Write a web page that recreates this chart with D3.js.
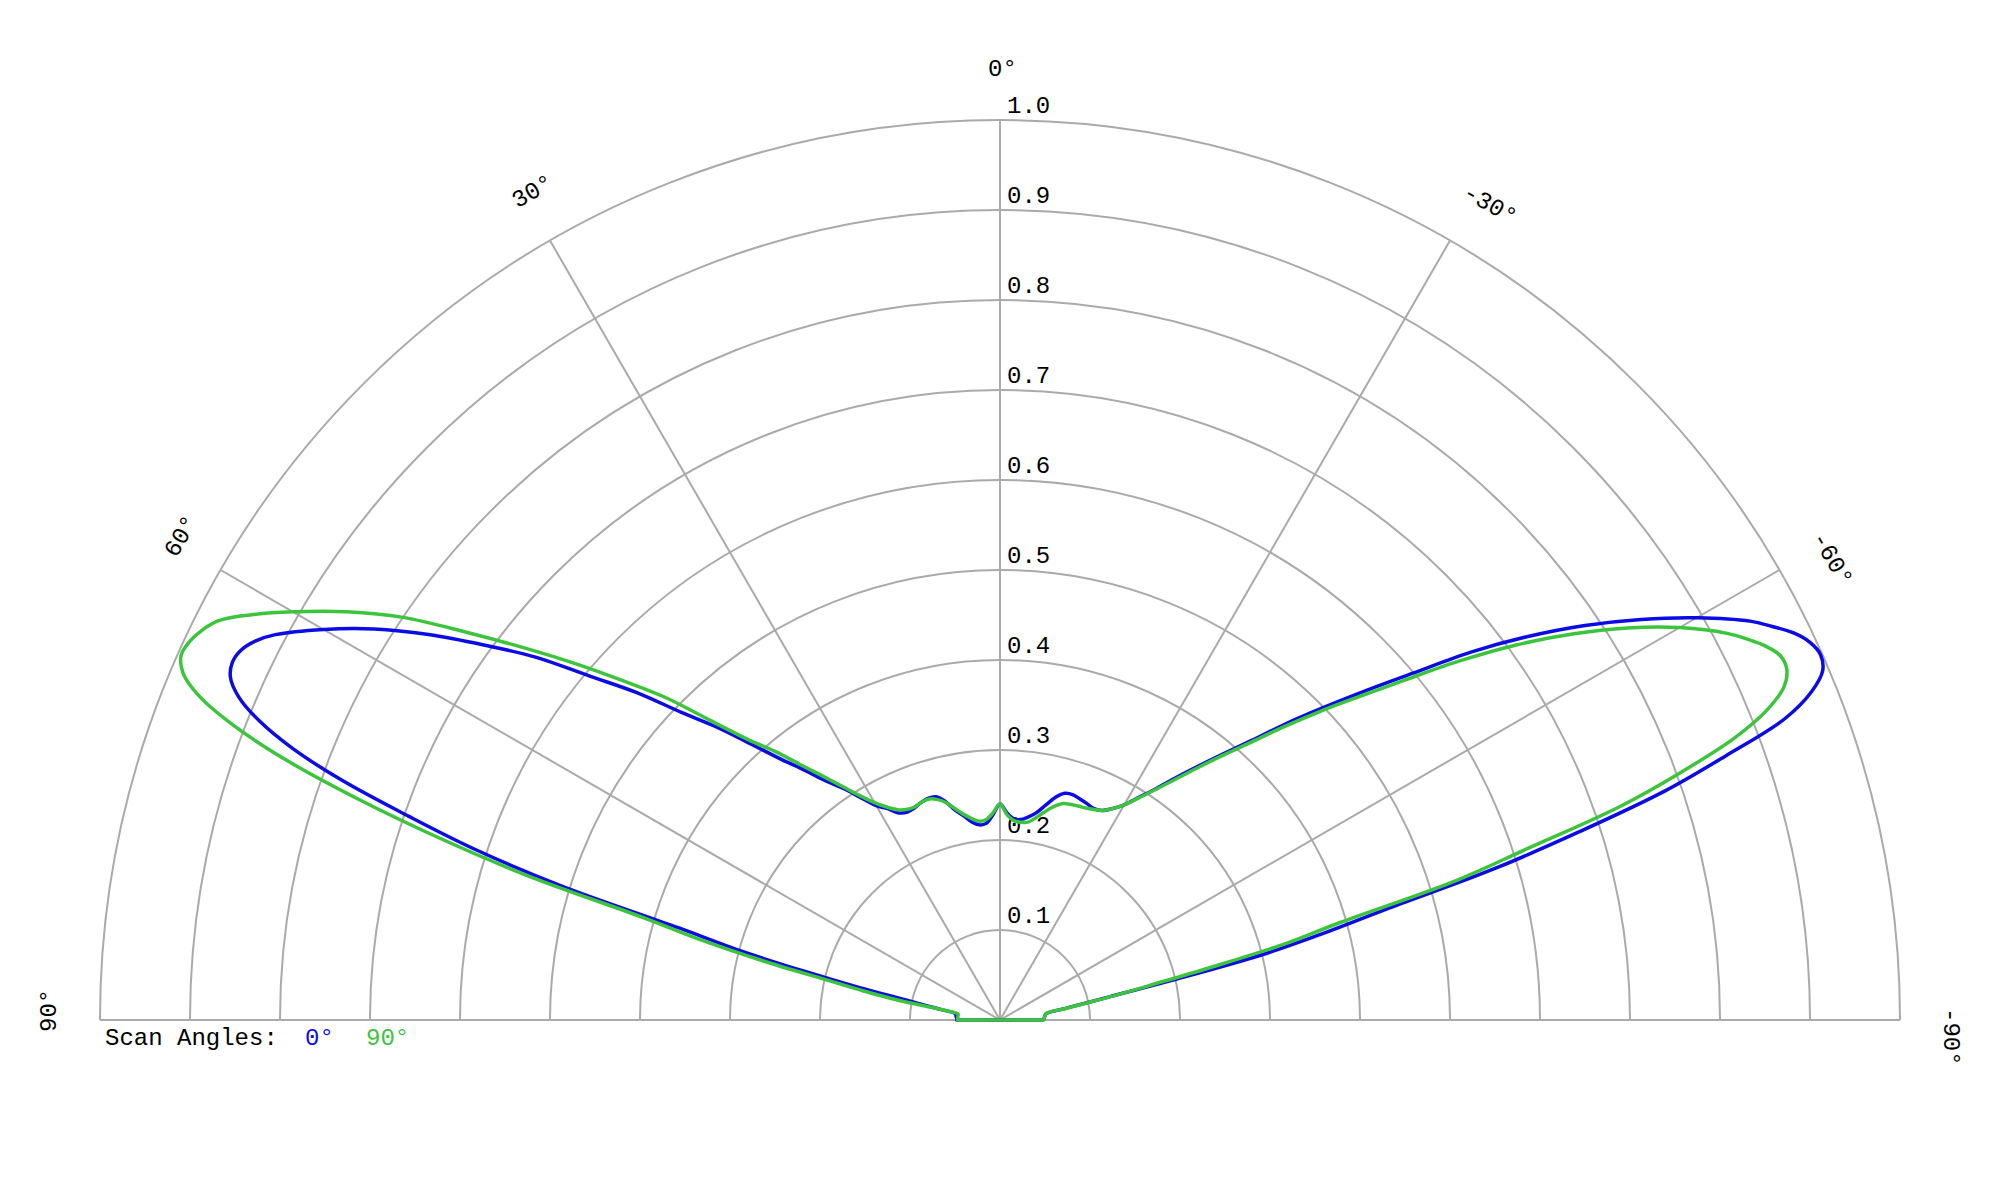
<!DOCTYPE html>
<html>
<head>
<meta charset="utf-8">
<script src="https://cdn.jsdelivr.net/npm/d3@7"></script>
<style>
    body { margin: 0; background: #fff; }
    text { font-family: "Liberation Mono", "Courier New", monospace; font-size: 24px; fill: #000; }
</style>
</head>
<body>
<div id="picture"></div>
<script>
// pattern angles in degrees (positive = left of broadside)
var angles = [-90, -88, -85, -82, -80, -79, -78, -77, -76, -75, -74, -73, -72, -71, -70, -69, -68, -67, -66, -65, -64, -63, -62,
    -60, -58, -56, -54, -52, -50, -48, -46, -44, -42, -40, -38, -36, -34, -32, -30, -28, -26, -24, -22, -20, -18, -16, -14, -12, -10, -8, -6, -4, -2,
    0,
    2, 4, 6, 8, 10, 12, 14, 16, 18, 20, 22, 24, 26, 28, 30, 32, 34, 36, 38, 40, 42, 44, 46, 48, 50, 52, 54, 56, 58, 60,
    62, 63, 64, 65, 66, 67, 68, 69, 70, 71, 72, 73, 74, 75, 76, 77, 78, 79, 80, 82, 85, 88, 90];

// scan angle 0 deg
var scan0 = [0.048, 0.049, 0.050, 0.052, 0.073, 0.092, 0.125, 0.196, 0.302, 0.372, 0.446, 0.573, 0.677, 0.781, 0.858, 0.934, 0.972, 0.993, 0.998, 0.993, 0.981, 0.963, 0.944,
    0.894, 0.840, 0.784, 0.725, 0.664, 0.600, 0.547, 0.500, 0.458, 0.418, 0.386, 0.358, 0.333, 0.310, 0.292, 0.276, 0.266, 0.259, 0.257, 0.259, 0.261, 0.263, 0.262, 0.255, 0.244, 0.234, 0.228, 0.224, 0.224, 0.230,
    0.240,
    0.228, 0.219, 0.218, 0.222, 0.230, 0.238, 0.250, 0.258, 0.259, 0.257, 0.254, 0.253, 0.256, 0.266, 0.275, 0.291, 0.310, 0.328, 0.352, 0.378, 0.412, 0.452, 0.492, 0.544, 0.594, 0.655, 0.709, 0.766, 0.820, 0.868,
    0.912, 0.928, 0.938, 0.941, 0.936, 0.919, 0.888, 0.842, 0.777, 0.694, 0.613, 0.510, 0.371, 0.304, 0.226, 0.161, 0.106, 0.082, 0.066, 0.050, 0.049, 0.048, 0.048];

// scan angle 90 deg
var scan90 = [0.048, 0.049, 0.050, 0.052, 0.075, 0.095, 0.130, 0.170, 0.240, 0.331, 0.393, 0.530, 0.616, 0.728, 0.806, 0.874, 0.919, 0.946, 0.957, 0.957, 0.947, 0.932, 0.915,
    0.872, 0.822, 0.767, 0.709, 0.648, 0.588, 0.537, 0.493, 0.452, 0.414, 0.383, 0.355, 0.330, 0.309, 0.291, 0.276, 0.266, 0.259, 0.256, 0.254, 0.253, 0.252, 0.250, 0.244, 0.236, 0.228, 0.222, 0.221, 0.222, 0.228,
    0.240,
    0.230, 0.223, 0.222, 0.226, 0.232, 0.240, 0.249, 0.255, 0.258, 0.257, 0.255, 0.256, 0.260, 0.268, 0.279, 0.294, 0.313, 0.335, 0.360, 0.390, 0.420, 0.462, 0.515, 0.563, 0.616, 0.672, 0.733, 0.800, 0.856, 0.907,
    0.956, 0.976, 0.987, 0.994, 0.996, 0.986, 0.959, 0.911, 0.843, 0.755, 0.657, 0.550, 0.410, 0.344, 0.270, 0.197, 0.155, 0.115, 0.064, 0.047, 0.047, 0.047, 0.047];

var radialTicks = [0.1, 0.2, 0.3, 0.4, 0.5, 0.6, 0.7, 0.8, 0.9, 1.0];
var angleTicks = [-90, -60, -30, 0, 30, 60, 90];
var spokeTicks = [-60, -30, 0, 30, 60];
var seriesNames = ["0°", "90°"];
var seriesColors = ["#0b0be6", "#3cc43c"];

function draw() {
    "use strict";

    var width = 2000, height = 1200, cx = 1000, cy = 1020, radius = 900;

    var svg = d3.select("#picture")
        .append("svg")
        .attr("width", width)
        .attr("height", height);

    var g = svg.append("g")
        .attr("transform", "translate(" + cx + "," + cy + ")");

    // angle 0 points up, positive degrees go counter-clockwise
    var a_scale = d3.scaleLinear().domain([-90, 90]).range([Math.PI / 2, -Math.PI / 2]);
    var r_scale = d3.scaleLinear().domain([0, 1]).range([0, radius]);

    // grid arcs
    g.selectAll(".ring")
        .data(radialTicks)
        .enter()
        .append("path")
        .attr("class", "ring")
        .attr("d", function (d) {
            var p = d3.path();
            p.arc(0, 0, r_scale(d), Math.PI, 2 * Math.PI);
            return p.toString();
        })
        .attr("fill", "none")
        .attr("stroke", "#aaaaaa")
        .attr("stroke-width", 2);

    // base line (+-90)
    g.append("line")
        .attr("x1", -r_scale(1)).attr("x2", r_scale(1))
        .attr("y1", 0).attr("y2", 0)
        .attr("stroke", "#aaaaaa")
        .attr("stroke-width", 2);

    g.selectAll(".spoke")
        .data(spokeTicks)
        .enter()
        .append("line")
        .attr("class", "spoke")
        .attr("x1", 0).attr("y1", 0)
        .attr("x2", function (d) { return r_scale(1) * Math.sin(a_scale(d)); })
        .attr("y2", function (d) { return -r_scale(1) * Math.cos(a_scale(d)); })
        .attr("stroke", "#aaaaaa")
        .attr("stroke-width", 2);

    // radial labels
    g.selectAll(".rlabel")
        .data(radialTicks)
        .enter()
        .append("text")
        .attr("class", "rlabel")
        .attr("x", 7)
        .attr("y", function (d) { return -r_scale(d) - 7; })
        .text(function (d) { return d.toFixed(1); });

    // angle labels
    var labelR = 944;
    g.selectAll(".alabel")
        .data(angleTicks)
        .enter()
        .append("text")
        .attr("class", "alabel")
        .attr("transform", function (d) {
            var a = a_scale(d);
            var x = labelR * Math.sin(a), y = -labelR * Math.cos(a);
            return "translate(" + x + "," + y + ") rotate(" + (a * 180 / Math.PI) + ")";
        })
        .attr("x", -12)
        .text(function (d) { return d + "°"; });

    // patterns: smooth open curve, closed with a straight segment along the base
    var line = d3.lineRadial()
        .angle(function (d) { return a_scale(d.a); })
        .radius(function (d) { return r_scale(d.r); })
        .curve(d3.curveCatmullRom.alpha(0.5));

    [scan0, scan90].forEach(function (vals, k) {
        var pts = angles.map(function (a, i) { return { a: a, r: vals[i] }; });
        g.append("path")
            .attr("d", line(pts) + "Z")
            .attr("fill", "none")
            .attr("stroke", seriesColors[k])
            .attr("stroke-width", 3.5)
            .attr("stroke-linejoin", "round");
    });

    // legend
    var leg = svg.append("text")
        .attr("x", 105)
        .attr("y", 1045);
    leg.append("tspan").text("Scan Angles:");
    leg.append("tspan").attr("x", 305).style("fill", seriesColors[0]).text(seriesNames[0]);
    leg.append("tspan").attr("x", 366).style("fill", seriesColors[1]).text(seriesNames[1]);
}

draw();
</script>
</body>
</html>
